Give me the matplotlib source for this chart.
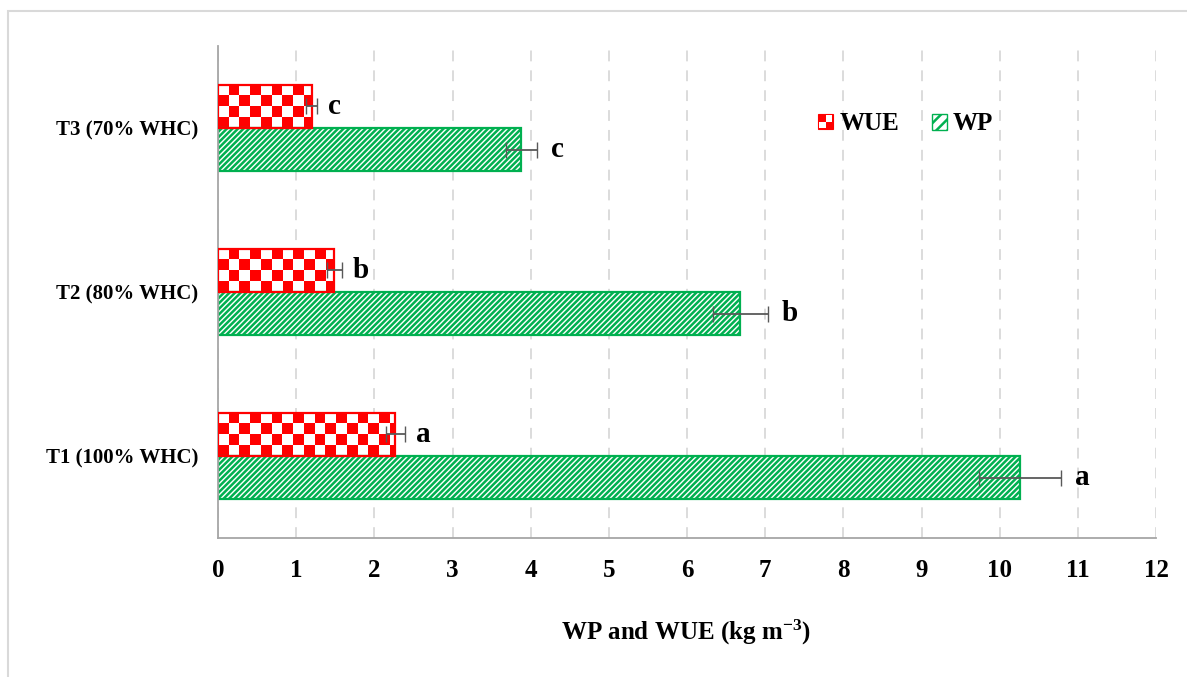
import numpy as np
import matplotlib
matplotlib.use("Agg")
import matplotlib.pyplot as plt
from matplotlib.colors import ListedColormap
from matplotlib.patches import Patch, Rectangle
from matplotlib.legend_handler import HandlerBase

# values
TREATMENTS = ["T1 (100% WHC)", "T2 (80% WHC)", "T3 (70% WHC)"]
WUE = [2.27, 1.49, 1.20]
WUE_ERR = [0.12, 0.09, 0.07]
WP = [10.26, 6.68, 3.88]
WP_ERR = [0.52, 0.35, 0.20]
WUE_LETTERS = ["a", "b", "c"]
WP_LETTERS = ["a", "b", "c"]
X_TICKS = list(range(0, 13))

RED = "#FF0000"
GREEN = "#00B050"
ERR_GRAY = "#595959"
GRID_GRAY = "#D9D9D9"
AXIS_GRAY = "#A6A6A6"
FONT = "Liberation Serif"

plt.rcParams["font.family"] = [FONT, "DejaVu Serif"]
plt.rcParams["font.weight"] = "bold"
plt.rcParams["hatch.linewidth"] = 1.8
plt.rcParams["mathtext.fontset"] = "custom"
plt.rcParams["mathtext.rm"] = f"{FONT}:bold"
plt.rcParams["mathtext.bf"] = f"{FONT}:bold"
plt.rcParams["mathtext.it"] = f"{FONT}:bold"

BAR_H = 0.263
CELL_X = 0.137
CELL_Y = BAR_H / 4
WP_HATCH = "//////"


class CheckerHandler(HandlerBase):
    def create_artists(self, legend, orig_handle, xdescent, ydescent, width, height, fontsize, trans):
        s = min(width, height)
        x0, y0 = -xdescent, -ydescent + (height - s) / 2
        base = Rectangle((x0, y0), s, s, facecolor=RED, edgecolor=RED, lw=0.8, transform=trans)
        w1 = Rectangle((x0 + s / 2, y0 + s / 2), s / 2 - 0.8, s / 2 - 0.8, facecolor="white", edgecolor="none", transform=trans)
        w2 = Rectangle((x0 + 0.8, y0 + 0.8), s / 2 - 0.8, s / 2 - 0.8, facecolor="white", edgecolor="none", transform=trans)
        return [base, w1, w2]


def draw_checker(ax, bar):
    x0, y0 = bar.get_x(), bar.get_y()
    w, h = bar.get_width(), bar.get_height()
    ncols = int(np.ceil(w / CELL_X))
    nrows = int(round(h / CELL_Y))
    grid = np.indices((nrows, ncols)).sum(axis=0) % 2
    im = ax.imshow(grid, cmap=ListedColormap(["white", RED]), extent=(x0, x0 + ncols * CELL_X, y0, y0 + h),
                   aspect="auto", interpolation="nearest", origin="upper", zorder=2)
    im.set_clip_path(bar)


def main() -> None:
    fig = plt.figure(figsize=(11.87, 6.77), dpi=100)
    ax = fig.add_axes([218 / 1187, 1 - 538 / 677, (1156 - 218) / 1187, (538 - 46) / 677])

    y = np.arange(len(TREATMENTS))
    wue_bars = ax.barh(y + BAR_H / 2, WUE, height=BAR_H, facecolor="white", edgecolor=RED, lw=1.6, zorder=3)
    for b in wue_bars:
        b.set_facecolor("none")
        draw_checker(ax, b)
    # hatch colour follows the edge colour
    ax.barh(y - BAR_H / 2, WP, height=BAR_H, facecolor="white", edgecolor=GREEN, hatch=WP_HATCH, lw=1.6, zorder=2)
    ax.errorbar(WUE, y + BAR_H / 2, xerr=WUE_ERR, fmt="none", ecolor=ERR_GRAY, elinewidth=1.3, capsize=6, zorder=4)
    ax.errorbar(WP, y - BAR_H / 2, xerr=WP_ERR, fmt="none", ecolor=ERR_GRAY, elinewidth=1.3, capsize=6, zorder=4)

    for i in range(len(TREATMENTS)):
        ax.annotate(WUE_LETTERS[i], (WUE[i] + WUE_ERR[i], y[i] + BAR_H / 2), xytext=(8, 0), textcoords="offset points",
                    ha="left", va="center", fontsize=21, fontweight="bold")
        ax.annotate(WP_LETTERS[i], (WP[i] + WP_ERR[i], y[i] - BAR_H / 2), xytext=(10, 0), textcoords="offset points",
                    ha="left", va="center", fontsize=21, fontweight="bold")

    ax.set_xlim(0, 12)
    ax.set_ylim(-0.5, 2.5)
    ax.set_xticks(X_TICKS)
    ax.set_yticks(y)
    ax.set_yticklabels(TREATMENTS)
    ax.tick_params(axis="x", length=0, pad=15, labelsize=18)
    ax.tick_params(axis="y", length=0, pad=14, labelsize=15)
    for lab in ax.get_xticklabels() + ax.get_yticklabels():
        lab.set_fontweight("bold")
    ax.grid(axis="x", color=GRID_GRAY, linestyle=(0, (6, 5)), lw=1.3, zorder=0)
    ax.set_axisbelow(True)
    for side in ["top", "right"]:
        ax.spines[side].set_visible(False)
    ax.spines["left"].set_color(AXIS_GRAY)
    ax.spines["bottom"].set_color(AXIS_GRAY)
    ax.spines["left"].set_linewidth(1.3)
    ax.spines["bottom"].set_linewidth(1.3)

    fig.text(686 / 1187, 1 - 632 / 677, r"WP and WUE (kg m$^{\mathbf{-3}}$)", ha="center", va="center",
             fontsize=18, fontweight="bold")

    handles = [Patch(facecolor="white", edgecolor=RED, label="WUE"),
               Patch(facecolor="white", edgecolor=GREEN, hatch="///", label="WP")]
    fig.legend(handles=handles, handler_map={handles[0]: CheckerHandler()}, loc="center left",
               bbox_to_anchor=(818 / 1187, 1 - 124 / 677), bbox_transform=fig.transFigure, ncol=2, frameon=False,
               borderpad=0, borderaxespad=0, handlelength=0.6, handleheight=0.6, handletextpad=0.25,
               columnspacing=1.3, prop={"family": FONT, "weight": "bold", "size": 18})

    fig.patches.append(Rectangle((8 / 1187, -0.1), 1.2, 1.1 - 11 / 677, transform=fig.transFigure,
                                 fill=False, edgecolor=GRID_GRAY, lw=1.5))
    fig.savefig("out.png", dpi=100)


if __name__ == "__main__":
    main()
